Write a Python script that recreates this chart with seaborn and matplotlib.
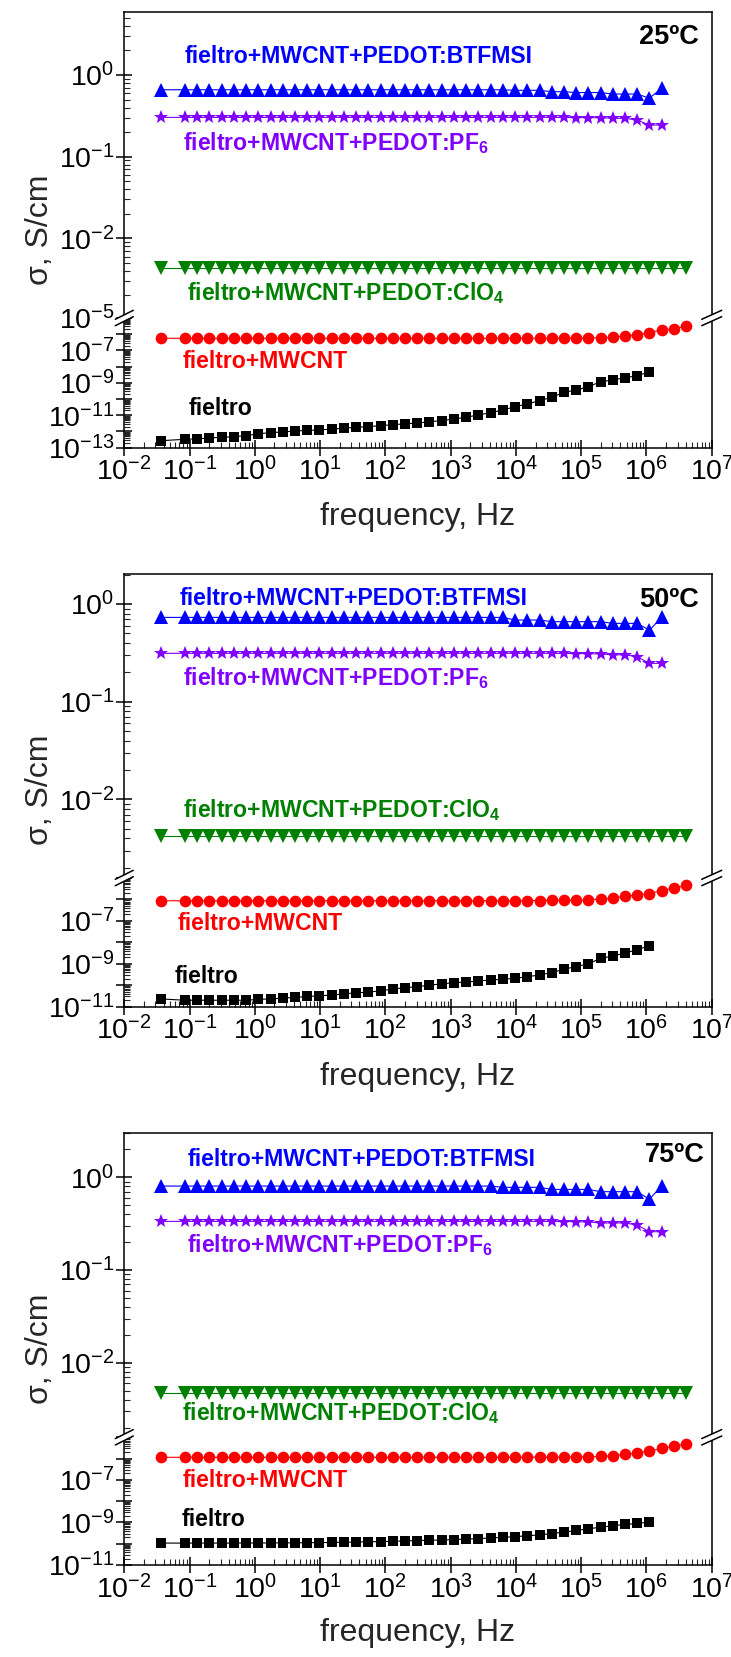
import matplotlib
matplotlib.use("Agg")
import matplotlib.pyplot as plt
import seaborn as sns
from matplotlib.lines import Line2D
from matplotlib.patches import Polygon
from matplotlib.ticker import LogLocator, FixedLocator, NullFormatter, FuncFormatter, NullLocator
import numpy as np

sns.set_theme(style="ticks")
plt.rcParams.update({
    "font.family": ["Liberation Sans", "DejaVu Sans"],
    "mathtext.fontset": "custom",
    "mathtext.rm": "Liberation Sans",
    "mathtext.bf": "Liberation Sans:bold",
    "mathtext.it": "Liberation Sans:italic",
    "mathtext.default": "regular",
    "axes.linewidth": 1.1,
    "axes.edgecolor": "black",
})

# ---------------- data ----------------
# measurement frequencies (Hz)
freq = [0.0363, 0.0849, 0.131, 0.201, 0.310, 0.477, 0.733, 1.13, 1.74, 2.67,
        4.12, 6.34, 9.75, 15.0, 23.1, 35.6, 54.8, 84.3, 130, 200,
        308, 473, 728, 1120, 1730, 2660, 4090, 6300, 9680, 14900,
        23000, 35300, 54500, 83800, 129000, 198000, 306000, 470000, 723000, 1110000,
        1710000, 2640000, 4060000]

# 25 ºC
btfmsi_25 = [0.66, 0.66, 0.66, 0.66, 0.66, 0.66, 0.66, 0.66, 0.66, 0.66,
             0.66, 0.66, 0.66, 0.66, 0.66, 0.66, 0.66, 0.66, 0.66, 0.66,
             0.66, 0.66, 0.66, 0.66, 0.66, 0.66, 0.66, 0.66, 0.65, 0.65,
             0.65, 0.625, 0.625, 0.61, 0.61, 0.61, 0.585, 0.585, 0.585, 0.52, 0.69]
pf6_25 = [0.303, 0.303, 0.303, 0.303, 0.303, 0.303, 0.303, 0.303, 0.303, 0.303,
          0.303, 0.303, 0.303, 0.303, 0.303, 0.303, 0.303, 0.303, 0.303, 0.303,
          0.303, 0.303, 0.303, 0.303, 0.303, 0.303, 0.303, 0.303, 0.303, 0.303,
          0.303, 0.303, 0.302, 0.301, 0.300, 0.300, 0.295, 0.295, 0.281, 0.244, 0.244]
clo4_25 = [0.0043, 0.0043, 0.0043, 0.0043, 0.0043, 0.0043, 0.0043, 0.0043, 0.0043, 0.0043,
           0.0043, 0.0043, 0.0043, 0.0043, 0.0043, 0.0043, 0.0043, 0.0043, 0.0043, 0.0043,
           0.0043, 0.0043, 0.0043, 0.0043, 0.0043, 0.0043, 0.0043, 0.0043, 0.0043, 0.0043,
           0.0043, 0.0043, 0.0043, 0.0043, 0.0043, 0.0043, 0.0043, 0.0043, 0.0043, 0.0043,
           0.0043, 0.0043, 0.0043]
mwcnt_25 = [5.6e-7, 5.6e-7, 5.6e-7, 5.6e-7, 5.6e-7, 5.6e-7, 5.6e-7, 5.6e-7, 5.6e-7, 5.6e-7,
            5.6e-7, 5.6e-7, 5.6e-7, 5.6e-7, 5.6e-7, 5.6e-7, 5.6e-7, 5.6e-7, 5.6e-7, 5.6e-7,
            5.6e-7, 5.6e-7, 5.6e-7, 5.6e-7, 5.6e-7, 5.6e-7, 5.6e-7, 5.6e-7, 5.7e-7, 5.7e-7,
            5.7e-7, 5.7e-7, 5.8e-7, 5.8e-7, 5.9e-7, 6.2e-7, 6.5e-7, 7.9e-7, 9.1e-7, 1.26e-6,
            1.86e-6, 2.1e-6, 3.2e-6]
felt_25 = [2.7e-13, 3.3e-13, 3.5e-13, 4.0e-13, 4.4e-13, 4.8e-13, 5.5e-13, 7.2e-13, 8.5e-13, 9.3e-13,
           1.07e-12, 1.17e-12, 1.23e-12, 1.41e-12, 1.58e-12, 1.82e-12, 2.0e-12, 2.3e-12, 2.6e-12, 3.0e-12,
           3.3e-12, 4.0e-12, 4.7e-12, 5.9e-12, 7.6e-12, 1.05e-11, 1.45e-11, 2.1e-11, 3.4e-11, 5.0e-11,
           7.9e-11, 1.29e-10, 2.6e-10, 3.6e-10, 5.8e-10, 1.17e-9, 1.5e-9, 2.1e-9, 2.7e-9, 4.9e-9]

# 50 ºC
btfmsi_50 = [0.73, 0.73, 0.73, 0.73, 0.73, 0.73, 0.73, 0.73, 0.73, 0.73,
             0.73, 0.73, 0.73, 0.73, 0.73, 0.73, 0.73, 0.73, 0.73, 0.73,
             0.73, 0.73, 0.73, 0.73, 0.73, 0.73, 0.73, 0.73, 0.686, 0.686,
             0.686, 0.66, 0.66, 0.66, 0.66, 0.66, 0.634, 0.634, 0.634, 0.54, 0.73]
pf6_50 = [0.313, 0.313, 0.313, 0.313, 0.313, 0.313, 0.313, 0.313, 0.313, 0.313,
          0.313, 0.313, 0.313, 0.313, 0.313, 0.313, 0.313, 0.313, 0.313, 0.313,
          0.313, 0.313, 0.313, 0.313, 0.313, 0.313, 0.313, 0.313, 0.313, 0.313,
          0.313, 0.313, 0.312, 0.311, 0.310, 0.309, 0.302, 0.302, 0.289, 0.247, 0.247]
clo4_50 = [0.0042, 0.0042, 0.0042, 0.0042, 0.0042, 0.0042, 0.0042, 0.0042, 0.0042, 0.0042,
           0.0042, 0.0042, 0.0042, 0.0042, 0.0042, 0.0042, 0.0042, 0.0042, 0.0042, 0.0042,
           0.0042, 0.0042, 0.0042, 0.0042, 0.0042, 0.0042, 0.0042, 0.0042, 0.0042, 0.0042,
           0.0042, 0.0042, 0.0042, 0.0042, 0.0042, 0.0042, 0.0042, 0.0042, 0.0042, 0.0042,
           0.0042, 0.0042, 0.0042]
mwcnt_50 = [8.7e-7, 8.7e-7, 8.7e-7, 8.7e-7, 8.7e-7, 8.7e-7, 8.7e-7, 8.7e-7, 8.7e-7, 8.7e-7,
            8.7e-7, 8.7e-7, 8.7e-7, 8.7e-7, 8.7e-7, 8.7e-7, 8.7e-7, 8.7e-7, 8.7e-7, 8.7e-7,
            8.7e-7, 8.7e-7, 8.7e-7, 8.7e-7, 8.7e-7, 8.7e-7, 8.7e-7, 8.7e-7, 8.8e-7, 8.9e-7,
            8.9e-7, 9.0e-7, 9.0e-7, 9.2e-7, 9.5e-7, 1.07e-6, 1.15e-6, 1.38e-6, 1.66e-6, 1.86e-6,
            2.6e-6, 3.4e-6, 4.5e-6]
felt_50 = [2.3e-11, 2.0e-11, 2.0e-11, 2.0e-11, 2.0e-11, 2.0e-11, 2.0e-11, 2.2e-11, 2.3e-11, 2.5e-11,
           2.7e-11, 3.0e-11, 3.2e-11, 3.5e-11, 3.9e-11, 4.5e-11, 4.7e-11, 5.6e-11, 6.5e-11, 7.8e-11,
           8.5e-11, 1.02e-10, 1.15e-10, 1.32e-10, 1.41e-10, 1.58e-10, 1.78e-10, 1.9e-10, 2.1e-10, 2.5e-10,
           3.0e-10, 3.9e-10, 5.6e-10, 7.4e-10, 1.0e-9, 1.8e-9, 2.3e-9, 3.2e-9, 4.5e-9, 7.1e-9]

# 75 ºC
btfmsi_75 = [0.805, 0.805, 0.805, 0.805, 0.805, 0.805, 0.805, 0.805, 0.805, 0.805,
             0.805, 0.805, 0.805, 0.805, 0.805, 0.805, 0.805, 0.805, 0.805, 0.805,
             0.805, 0.805, 0.805, 0.805, 0.805, 0.805, 0.805, 0.78, 0.78, 0.78,
             0.78, 0.74, 0.74, 0.74, 0.74, 0.70, 0.70, 0.70, 0.70, 0.58, 0.805]
pf6_75 = [0.335, 0.335, 0.335, 0.335, 0.335, 0.335, 0.335, 0.335, 0.335, 0.335,
          0.335, 0.335, 0.335, 0.335, 0.335, 0.335, 0.335, 0.335, 0.335, 0.335,
          0.335, 0.335, 0.335, 0.335, 0.335, 0.335, 0.335, 0.335, 0.335, 0.335,
          0.335, 0.334, 0.333, 0.332, 0.330, 0.322, 0.322, 0.322, 0.306, 0.259, 0.259]
clo4_75 = [0.0047, 0.0047, 0.0047, 0.0047, 0.0047, 0.0047, 0.0047, 0.0047, 0.0047, 0.0047,
           0.0047, 0.0047, 0.0047, 0.0047, 0.0047, 0.0047, 0.0047, 0.0047, 0.0047, 0.0047,
           0.0047, 0.0047, 0.0047, 0.0047, 0.0047, 0.0047, 0.0047, 0.0047, 0.0047, 0.0047,
           0.0047, 0.0047, 0.0047, 0.0047, 0.0047, 0.0047, 0.0047, 0.0047, 0.0047, 0.0047,
           0.0047, 0.0047, 0.0047]
mwcnt_75 = [1.15e-6, 1.15e-6, 1.15e-6, 1.15e-6, 1.15e-6, 1.15e-6, 1.15e-6, 1.15e-6, 1.15e-6, 1.15e-6,
            1.15e-6, 1.15e-6, 1.15e-6, 1.15e-6, 1.15e-6, 1.15e-6, 1.15e-6, 1.15e-6, 1.15e-6, 1.15e-6,
            1.15e-6, 1.15e-6, 1.15e-6, 1.15e-6, 1.15e-6, 1.15e-6, 1.15e-6, 1.15e-6, 1.16e-6, 1.16e-6,
            1.17e-6, 1.17e-6, 1.18e-6, 1.19e-6, 1.2e-6, 1.26e-6, 1.38e-6, 1.58e-6, 1.86e-6, 2.2e-6,
            3.0e-6, 3.8e-6, 5.0e-6]
felt_75 = [1.07e-10, 1.07e-10, 1.07e-10, 1.07e-10, 1.07e-10, 1.07e-10, 1.08e-10, 1.08e-10, 1.09e-10, 1.1e-10,
           1.1e-10, 1.12e-10, 1.13e-10, 1.15e-10, 1.17e-10, 1.2e-10, 1.23e-10, 1.26e-10, 1.3e-10, 1.35e-10,
           1.4e-10, 1.45e-10, 1.5e-10, 1.57e-10, 1.65e-10, 1.75e-10, 1.85e-10, 2.0e-10, 2.15e-10, 2.35e-10,
           2.6e-10, 3.0e-10, 3.5e-10, 4.2e-10, 5.0e-10, 6.0e-10, 7.0e-10, 8.0e-10, 9.0e-10, 1.05e-9]

temps = ["25ºC", "50ºC", "75ºC"]

COL_BTF = "#0000ff"
COL_PF6 = "#8000ff"
COL_CLO = "#008000"
COL_MW = "#ff0000"
COL_F = "#000000"

W, H = 731, 1657
fig = plt.figure(figsize=(W / 100, H / 100), dpi=100)

AX_L, AX_R = 124.3, 711.7


def fx(px):
    return px / W


def fy(py):
    return 1 - py / H


# per panel: pixel top / break / bottom, upper limits, lower limits, lower labelled decades
panels = [
    dict(top=11.7, brk=318.0, bot=447.7, up=(1.06e-3, 5.96), lo=(1e-13, 1e-5),
         lo_lab=[-13, -11, -9, -7, -5], ylab_y=229.7, xlab_y=517,
         series=(btfmsi_25, pf6_25, clo4_25, mwcnt_25, felt_25),
         txt=dict(btf=(0.085, 1.68), pf6=(0.078, 0.146), clo=(0.09, 2.13e-3),
                  mw=(0.078, 2.0e-8), f=(0.098, 2.7e-11), t=(6.3e6, 2.9))),
    dict(top=574.0, brk=878.0, bot=1006.7, up=(1.57e-3, 2.03), lo=(1e-11, 1e-5),
         lo_lab=[-11, -9, -7], ylab_y=790, xlab_y=1077,
         series=(btfmsi_50, pf6_50, clo4_50, mwcnt_50, felt_50),
         txt=dict(btf=(0.071, 1.14), pf6=(0.079, 0.174), clo=(0.079, 7.8e-3),
                  mw=(0.066, 7.9e-8), f=(0.060, 2.5e-10), t=(6.3e6, 1.1))),
    dict(top=1132.7, brk=1437.3, bot=1565.0, up=(1.57e-3, 3.03), lo=(1e-11, 1e-5),
         lo_lab=[-11, -9, -7], ylab_y=1349, xlab_y=1633,
         series=(btfmsi_75, pf6_75, clo4_75, mwcnt_75, felt_75),
         txt=dict(btf=(0.095, 1.54), pf6=(0.09, 0.186), clo=(0.076, 2.9e-3),
                  mw=(0.078, 8.9e-8), f=(0.076, 1.35e-9), t=(7.8e6, 1.74))),
]

TICK_FS = 20.5
ANN_FS = 16.6
LAB_FS = 23


def style_axis(ax):
    ax.set_xscale("log")
    ax.set_yscale("log")
    ax.set_xlim(1e-2, 1e7)
    ax.tick_params(which="major", direction="inout", length=12, width=1.1,
                   labelsize=TICK_FS, pad=1, colors="black", top=False, right=False)
    ax.tick_params(which="minor", direction="in", length=4.5, width=0.8,
                   top=False, right=False)
    ax.set_facecolor("white")
    ax.grid(False)


def draw(ax, x, y, color, marker, ms):
    sns.lineplot(x=x, y=y, ax=ax, color=color, marker=marker, markersize=ms,
                 markeredgewidth=0, linewidth=0.8, estimator=None, sort=False,
                 legend=False)


def break_marks(xs, yb, half=10):
    # two parallel slashes with the spine hidden between them
    d, rise = 3.2, 4.5
    pts = [(xs - half, yb + d + rise), (xs + half, yb + d - rise),
           (xs + half, yb - d - rise), (xs - half, yb - d + rise)]
    fig.add_artist(Polygon([(fx(a), fy(b)) for a, b in pts], closed=True,
                           facecolor="white", edgecolor="none",
                           transform=fig.transFigure, zorder=20))
    for s in (+d, -d):
        fig.add_artist(Line2D([fx(xs - half), fx(xs + half)],
                              [fy(yb + s + rise), fy(yb + s - rise)],
                              color="black", lw=1.1, transform=fig.transFigure,
                              zorder=21))


for p, temp in zip(panels, temps):
    w = fx(AX_R) - fx(AX_L)
    ax_up = fig.add_axes([fx(AX_L), fy(p["brk"]), w, fy(p["top"]) - fy(p["brk"])])
    ax_lo = fig.add_axes([fx(AX_L), fy(p["bot"]), w, fy(p["brk"]) - fy(p["bot"])])
    for ax in (ax_up, ax_lo):
        style_axis(ax)

    btf, pf6, clo, mw, felt = p["series"]
    draw(ax_up, freq[:len(btf)], btf, COL_BTF, "^", 10.0)
    draw(ax_up, freq[:len(pf6)], pf6, COL_PF6, "*", 10.0)
    draw(ax_up, freq[:len(clo)], clo, COL_CLO, "v", 10.0)
    draw(ax_lo, freq[:len(mw)], mw, COL_MW, "o", 8.4)
    draw(ax_lo, freq[:len(felt)], felt, COL_F, "s", 6.8)

    # upper part of the broken y axis
    ax_up.set_ylim(*p["up"])
    ax_up.yaxis.set_major_locator(LogLocator(base=10, numticks=20))
    ax_up.yaxis.set_minor_locator(LogLocator(base=10, subs=np.arange(2, 10), numticks=20))
    ax_up.yaxis.set_minor_formatter(NullFormatter())
    ax_up.spines["bottom"].set_visible(False)
    ax_up.xaxis.set_major_locator(NullLocator())
    ax_up.xaxis.set_minor_locator(NullLocator())

    # lower part of the broken y axis
    ax_lo.set_ylim(*p["lo"])
    lo0, lo1 = int(np.log10(p["lo"][0])), int(np.log10(p["lo"][1]))
    ax_lo.yaxis.set_major_locator(FixedLocator([10.0 ** e for e in range(lo0, lo1 + 1)]))
    labelled = set(p["lo_lab"])
    ax_lo.yaxis.set_major_formatter(FuncFormatter(
        lambda v, pos, lab=labelled: (r"$10^{%d}$" % round(np.log10(v)))
        if round(np.log10(v)) in lab else ""))
    ax_lo.yaxis.set_minor_locator(LogLocator(base=10, subs=np.arange(2, 10), numticks=30))
    ax_lo.yaxis.set_minor_formatter(NullFormatter())
    ax_lo.spines["top"].set_visible(False)
    ax_lo.xaxis.set_major_locator(FixedLocator([10.0 ** e for e in range(-2, 8)]))
    ax_lo.xaxis.set_minor_locator(LogLocator(base=10, subs=np.arange(2, 10), numticks=20))
    ax_lo.xaxis.set_minor_formatter(NullFormatter())
    ax_lo.set_xlabel("")
    ax_lo.set_ylabel("")
    ax_up.set_xlabel("")
    ax_up.set_ylabel("")

    # curve labels
    t = p["txt"]
    kw = dict(fontsize=ANN_FS, fontweight="bold", ha="left", va="center")
    ax_up.text(*t["btf"], "fieltro+MWCNT+PEDOT:BTFMSI", color=COL_BTF, **kw)
    ax_up.text(*t["pf6"], r"fieltro+MWCNT+PEDOT:PF$_\mathbf{6}$", color=COL_PF6, **kw)
    ax_up.text(*t["clo"], r"fieltro+MWCNT+PEDOT:ClO$_\mathbf{4}$", color=COL_CLO, **kw)
    ax_lo.text(*t["mw"], "fieltro+MWCNT", color=COL_MW, **kw)
    ax_lo.text(*t["f"], "fieltro", color=COL_F, **kw)
    ax_up.text(*t["t"], temp, color="black", fontsize=19.5, fontweight="bold",
               ha="right", va="center")

    # axis titles
    fig.text(fx(40), fy(p["ylab_y"]), "σ, S/cm", rotation=90, fontsize=LAB_FS,
             ha="center", va="center")
    fig.text(fx((AX_L + AX_R) / 2), fy(p["xlab_y"]), "frequency, Hz",
             fontsize=LAB_FS, ha="center", va="center")

    break_marks(AX_L, p["brk"], half=9)
    break_marks(AX_R, p["brk"], half=10)

fig.savefig("out.png", dpi=100, facecolor="white")
